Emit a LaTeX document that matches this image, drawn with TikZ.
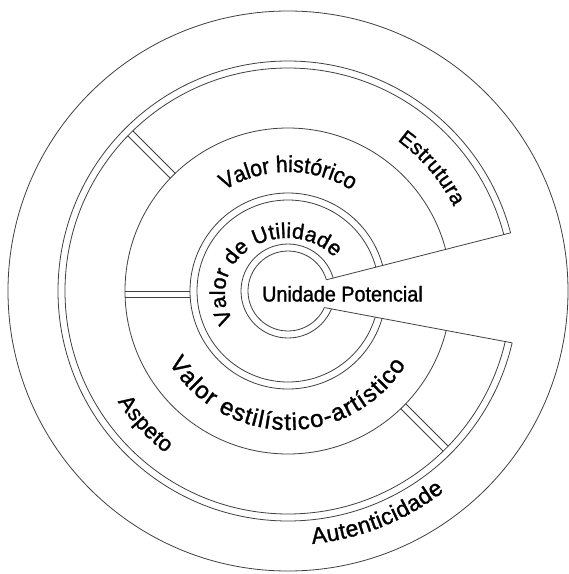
\documentclass[tikz,border=0pt]{standalone}
\usepackage{fontspec}
\setmainfont[FakeBold=1.2]{Liberation Sans}
\newfontfamily\narrowfont[FakeStretch=0.92,FakeBold=1.2]{Liberation Sans}
\usetikzlibrary{decorations.text}
\tikzset{
  ring/.style={draw=black!75, line width=0.8pt},
  label/.style={inner sep=0pt, font=\narrowfont\fontsize{21.5}{26}\selectfont},
}
\begin{document}
\begin{tikzpicture}[x=1pt,y=1pt]
\useasboundingbox (-288,-283) rectangle (281,291);
\fill[white] (-288,-283) rectangle (281,291);
% outer circle
\draw[ring] (0,0) circle[radius=280];
% rings cut by the wedge
\begin{scope}
\clip (-400,-400) -- (400,-400) -- (400,400) -- (-400,400) -- cycle
      (-25.21,-4.99) -- (320,82.97) -- (320,-69.86) -- cycle;
\foreach \r in {230,223,163,98,91,47,40}
  \draw[ring] (0,0) circle[radius=\r];
\end{scope}
% wedge edges
\coordinate (u1) at (38.40,11.21);
\coordinate (u2) at (222.53,58.13);
\coordinate (l1) at (36.41,-16.57);
\coordinate (l2) at (224.08,-51.84);
\draw[ring] (u1) -- (u2);
\draw[ring] (l1) -- (l2);
% left spoke
\draw[ring] (-163,0) -- (-98,0);
\draw[ring] (-162.89,-6) -- (-97.82,-6);
% upper-left spoke
\begin{scope}[rotate=135]
\draw[ring] (162.96,3.5) -- (222.97,3.5);
\draw[ring] (162.96,-3.5) -- (222.97,-3.5);
\end{scope}
% lower-right spoke
\begin{scope}[rotate=-45]
\draw[ring] (162.96,3.5) -- (222.97,3.5);
\draw[ring] (162.96,-3.5) -- (222.97,-3.5);
\end{scope}
% texts
\node[label, anchor=base west] (up) at (-26,-10.5) {Unidade Potencial};
\coordinate (vu) at (-54.69,-29.5);
\path[decorate, decoration={text along path, text align={fit to path},
  text={|\fontsize{21.5}{26}\selectfont|Valor de Utilidade}}]
  (vu) arc[start angle=210, end angle=40, x radius=62, y radius=55];
\path[decorate, decoration={text along path, text align={center},
  text={|\narrowfont\fontsize{23}{26}\selectfont|Valor histórico}}]
  (128:119) arc[start angle=128, end angle=52, radius=119];
\path[decorate, decoration={text along path, text align={fit to path},
  text={|\fontsize{24}{26}\selectfont|Valor estilístico-artístico}}]
  (211:139) arc[start angle=211, end angle=328, radius=139];
\path[decorate, decoration={text along path, text align={fit to path},
  text={|\fontsize{21}{26}\selectfont|Estrutura}}]
  (54:186) arc[start angle=54, end angle=27, radius=186];
\path[decorate, decoration={text along path, text align={fit to path},
  text={|\fontsize{22}{26}\selectfont|Aspeto}}]
  (213:203) arc[start angle=213, end angle=233, radius=203];
\path[decorate, decoration={text along path, text align={fit to path},
  text={|\fontsize{23}{26}\selectfont|Autenticidade}}]
  (275.5:254) arc[start angle=275.5, end angle=308, radius=254];
\end{tikzpicture}
\end{document}
